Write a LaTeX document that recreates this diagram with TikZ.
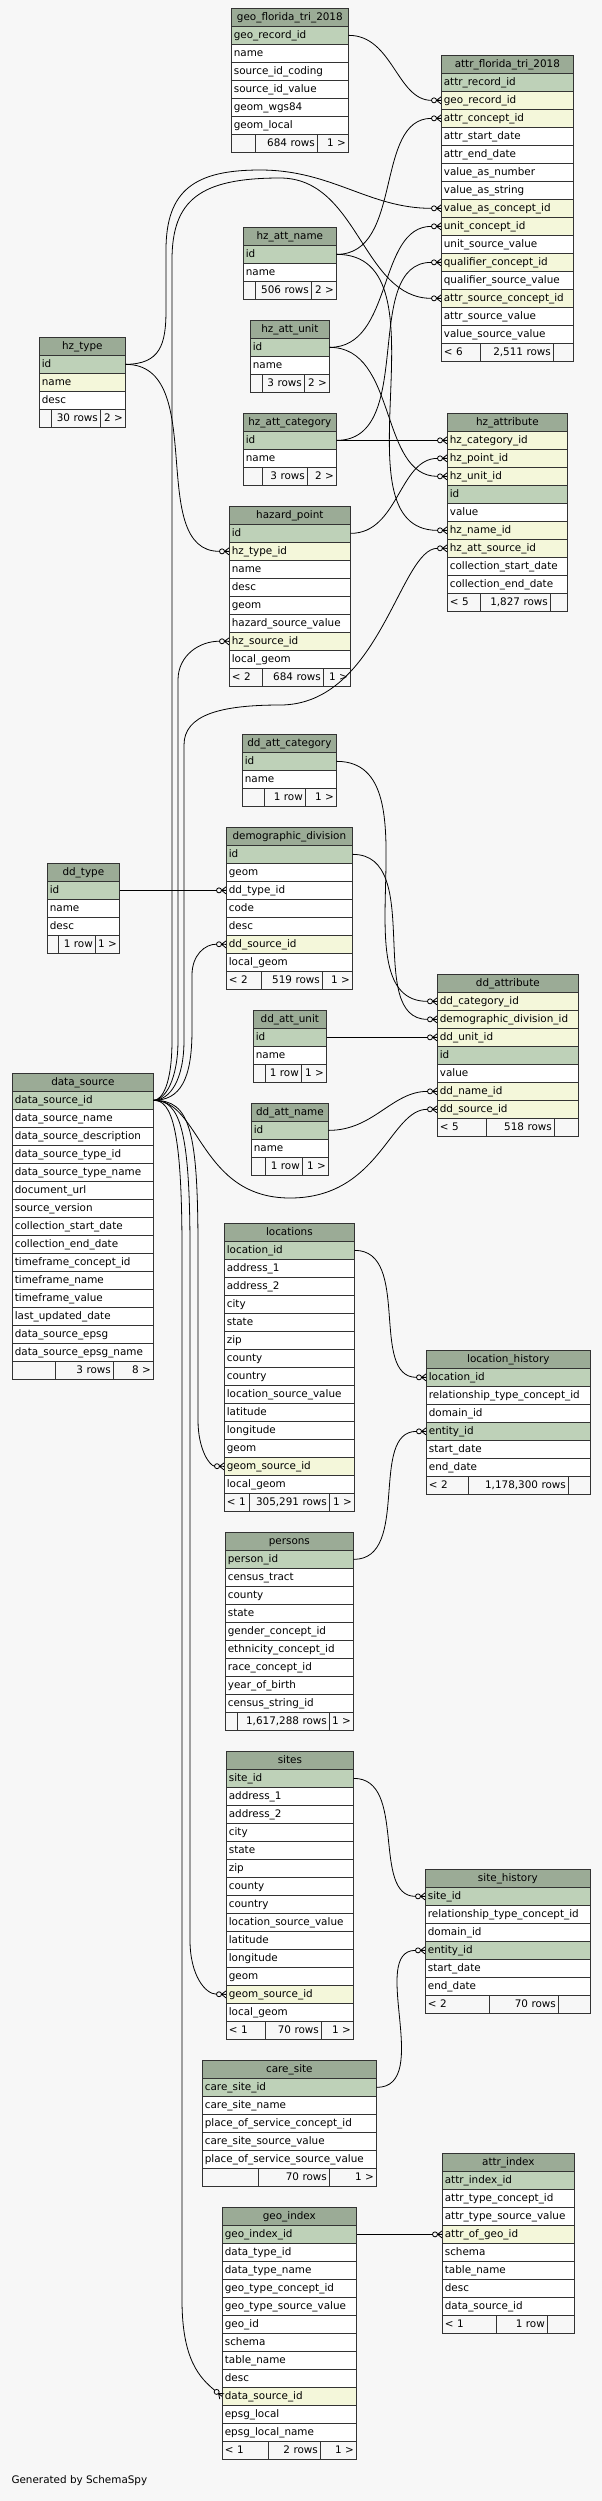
\documentclass[tikz,border=0pt]{standalone}
\usepackage{fontspec}
\setmainfont{DejaVu Sans}
\usetikzlibrary{arrows.meta}

\definecolor{bggray}{HTML}{F7F7F7}
\definecolor{hdrgreen}{HTML}{9BAB96}
\definecolor{pkgreen}{HTML}{BED1B8}
\definecolor{fkyellow}{HTML}{F4F7DA}
\definecolor{footgray}{HTML}{F7F7F7}

\newcommand{\dbfont}{\fontsize{10.4pt}{12pt}\selectfont\hyphenpenalty=10000\exhyphenpenalty=10000\relax}

% circle plus crow's foot at the child end
\pgfdeclarearrow{
  name=crowfoot,
  setup code={
    \pgfarrowssettipend{0pt}
    \pgfarrowssetlineend{-9.5pt}
    \pgfarrowssetbackend{-9.5pt}
  },
  drawing code={
    \pgfpathmoveto{\pgfqpoint{0pt}{3.5pt}}
    \pgfpathlineto{\pgfqpoint{-4.5pt}{0pt}}
    \pgfpathlineto{\pgfqpoint{0pt}{-3.5pt}}
    \pgfpathmoveto{\pgfqpoint{0pt}{0pt}}
    \pgfpathlineto{\pgfqpoint{-4.5pt}{0pt}}
    \pgfusepathqstroke
    \pgfpathcircle{\pgfqpoint{-7pt}{0pt}}{2.5pt}
    \pgfusepathqstroke
  }
}

\begin{document}
\begin{tikzpicture}[x=1pt,y=-1pt,
  dbcell/.style={draw=black!80, line width=0.7pt, anchor=north west, minimum height=18pt,
    inner xsep=2.5pt, inner ysep=0pt, text height=8pt, text depth=2.5pt, font=\dbfont},
  tblhead/.style={dbcell, fill=hdrgreen, align=center},
  pkrow/.style={dbcell, fill=pkgreen, align=left},
  fkrow/.style={dbcell, fill=fkyellow, align=left},
  colrow/.style={dbcell, fill=white, align=left},
  footl/.style={dbcell, fill=footgray, align=left},
  footr/.style={dbcell, fill=footgray, align=right},
  relline/.style={draw=black, line width=0.8pt, -{crowfoot}}]
\useasboundingbox (0,0) rectangle (602,2501);
\fill[bggray] (0,0) rectangle (602,2501);

% geo_florida_tri_2018
\begin{scope}[every node/.append style={text width=112pt}]
\node[tblhead] (gft) at (231,8) {geo\_florida\_tri\_2018};
\node[pkrow] (gft1) at (231,26) {geo\_record\_id};
\node[colrow] (gft2) at (231,44) {name};
\node[colrow] (gft3) at (231,62) {source\_id\_coding};
\node[colrow] (gft4) at (231,80) {source\_id\_value};
\node[colrow] (gft5) at (231,98) {geom\_wgs84};
\node[colrow] (gft6) at (231,116) {geom\_local};
\node[footl, text width=19pt] (gftf1) at (231,134) {};
\node[footr, text width=57pt] (gftf2) at (255,134) {684~rows};
\node[footr, text width=26pt] (gftf3) at (317,134) {1~>};
\end{scope}

% attr_florida_tri_2018
\begin{scope}[every node/.append style={text width=127pt}]
\node[tblhead] (afl) at (441,55) {attr\_florida\_tri\_2018};
\node[pkrow] (afl1) at (441,73) {attr\_record\_id};
\node[fkrow] (afl2) at (441,91) {geo\_record\_id};
\node[fkrow] (afl3) at (441,109) {attr\_concept\_id};
\node[colrow] (afl4) at (441,127) {attr\_start\_date};
\node[colrow] (afl5) at (441,145) {attr\_end\_date};
\node[colrow] (afl6) at (441,163) {value\_as\_number};
\node[colrow] (afl7) at (441,181) {value\_as\_string};
\node[fkrow] (afl8) at (441,199) {value\_as\_concept\_id};
\node[fkrow] (afl9) at (441,217) {unit\_concept\_id};
\node[colrow] (afl10) at (441,235) {unit\_source\_value};
\node[fkrow] (afl11) at (441,253) {qualifier\_concept\_id};
\node[colrow] (afl12) at (441,271) {qualifier\_source\_value};
\node[fkrow] (afl13) at (441,289) {attr\_source\_concept\_id};
\node[colrow] (afl14) at (441,307) {attr\_source\_value};
\node[colrow] (afl15) at (441,325) {value\_source\_value};
\node[footl, text width=34pt] (aflf1) at (441,343) {<~6};
\node[footr, text width=68pt] (aflf2) at (480,343) {2,511~rows};
\node[footr, text width=15pt] (aflf3) at (553,343) {};
\end{scope}

% hz_att_name
\begin{scope}[every node/.append style={text width=88pt}]
\node[tblhead] (han) at (243,227) {hz\_att\_name};
\node[pkrow] (han1) at (243,245) {id};
\node[colrow] (han2) at (243,263) {name};
\node[footl, text width=7pt] (hanf1) at (243,281) {};
\node[footr, text width=51pt] (hanf2) at (255,281) {506~rows};
\node[footr, text width=20pt] (hanf3) at (311,281) {2~>};
\end{scope}

% hz_att_unit
\begin{scope}[every node/.append style={text width=74pt}]
\node[tblhead] (hau) at (250,320) {hz\_att\_unit};
\node[pkrow] (hau1) at (250,338) {id};
\node[colrow] (hau2) at (250,356) {name};
\node[footl, text width=7pt] (hauf1) at (250,374) {};
\node[footr, text width=37pt] (hauf2) at (262,374) {3~rows};
\node[footr, text width=20pt] (hauf3) at (304,374) {2~>};
\end{scope}

% hz_type
\begin{scope}[every node/.append style={text width=81pt}]
\node[tblhead] (hzt) at (39,337) {hz\_type};
\node[pkrow] (hzt1) at (39,355) {id};
\node[fkrow] (hzt2) at (39,373) {name};
\node[colrow] (hzt3) at (39,391) {desc};
\node[footl, text width=7pt] (hztf1) at (39,409) {};
\node[footr, text width=44pt] (hztf2) at (51,409) {30~rows};
\node[footr, text width=20pt] (hztf3) at (100,409) {2~>};
\end{scope}

% hz_att_category
\begin{scope}[every node/.append style={text width=88pt}]
\node[tblhead] (hac) at (243,413) {hz\_att\_category};
\node[pkrow] (hac1) at (243,431) {id};
\node[colrow] (hac2) at (243,449) {name};
\node[footl, text width=14pt] (hacf1) at (243,467) {};
\node[footr, text width=40pt] (hacf2) at (262,467) {3~rows};
\node[footr, text width=24pt] (hacf3) at (307,467) {2~>};
\end{scope}

% hazard_point
\begin{scope}[every node/.append style={text width=116pt}]
\node[tblhead] (hzp) at (229,506) {hazard\_point};
\node[pkrow] (hzp1) at (229,524) {id};
\node[fkrow] (hzp2) at (229,542) {hz\_type\_id};
\node[colrow] (hzp3) at (229,560) {name};
\node[colrow] (hzp4) at (229,578) {desc};
\node[colrow] (hzp5) at (229,596) {geom};
\node[colrow] (hzp6) at (229,614) {hazard\_source\_value};
\node[fkrow] (hzp7) at (229,632) {hz\_source\_id};
\node[colrow] (hzp8) at (229,650) {local\_geom};
\node[footl, text width=28pt] (hzpf1) at (229,668) {<~2};
\node[footr, text width=56pt] (hzpf2) at (262,668) {684~rows};
\node[footr, text width=22pt] (hzpf3) at (323,668) {1~>};
\end{scope}

% hz_attribute
\begin{scope}[every node/.append style={text width=115pt}]
\node[tblhead] (hza) at (447,413) {hz\_attribute};
\node[fkrow] (hza1) at (447,431) {hz\_category\_id};
\node[fkrow] (hza2) at (447,449) {hz\_point\_id};
\node[fkrow] (hza3) at (447,467) {hz\_unit\_id};
\node[pkrow] (hza4) at (447,485) {id};
\node[colrow] (hza5) at (447,503) {value};
\node[fkrow] (hza6) at (447,521) {hz\_name\_id};
\node[fkrow] (hza7) at (447,539) {hz\_att\_source\_id};
\node[colrow] (hza8) at (447,557) {collection\_start\_date};
\node[colrow] (hza9) at (447,575) {collection\_end\_date};
\node[footl, text width=28pt] (hzaf1) at (447,593) {<~5};
\node[footr, text width=65pt] (hzaf2) at (480,593) {1,827~rows};
\node[footr, text width=12pt] (hzaf3) at (550,593) {};
\end{scope}

% dd_att_category
\begin{scope}[every node/.append style={text width=89pt}]
\node[tblhead] (dac) at (242,734) {dd\_att\_category};
\node[pkrow] (dac1) at (242,752) {id};
\node[colrow] (dac2) at (242,770) {name};
\node[footl, text width=17pt] (dacf1) at (242,788) {};
\node[footr, text width=36pt] (dacf2) at (264,788) {1~row};
\node[footr, text width=26pt] (dacf3) at (305,788) {1~>};
\end{scope}

% demographic_division
\begin{scope}[every node/.append style={text width=121pt}]
\node[tblhead] (ddv) at (226,827) {demographic\_division};
\node[pkrow] (ddv1) at (226,845) {id};
\node[colrow] (ddv2) at (226,863) {geom};
\node[colrow] (ddv3) at (226,881) {dd\_type\_id};
\node[colrow] (ddv4) at (226,899) {code};
\node[colrow] (ddv5) at (226,917) {desc};
\node[fkrow] (ddv6) at (226,935) {dd\_source\_id};
\node[colrow] (ddv7) at (226,953) {local\_geom};
\node[footl, text width=30pt] (ddvf1) at (226,971) {<~2};
\node[footr, text width=56pt] (ddvf2) at (261,971) {519~rows};
\node[footr, text width=25pt] (ddvf3) at (322,971) {1~>};
\end{scope}

% dd_type
\begin{scope}[every node/.append style={text width=67pt}]
\node[tblhead] (ddt) at (47,863) {dd\_type};
\node[pkrow] (ddt1) at (47,881) {id};
\node[colrow] (ddt2) at (47,899) {name};
\node[colrow] (ddt3) at (47,917) {desc};
\node[footl, text width=6pt] (ddtf1) at (47,935) {};
\node[footr, text width=32pt] (ddtf2) at (58,935) {1~row};
\node[footr, text width=19pt] (ddtf3) at (95,935) {1~>};
\end{scope}

% dd_att_unit
\begin{scope}[every node/.append style={text width=68pt}]
\node[tblhead] (dau) at (253,1010) {dd\_att\_unit};
\node[pkrow] (dau1) at (253,1028) {id};
\node[colrow] (dau2) at (253,1046) {name};
\node[footl, text width=7pt] (dauf1) at (253,1064) {};
\node[footr, text width=31pt] (dauf2) at (265,1064) {1~row};
\node[footr, text width=20pt] (dauf3) at (301,1064) {1~>};
\end{scope}

% dd_attribute
\begin{scope}[every node/.append style={text width=136pt}]
\node[tblhead] (dda) at (437,974) {dd\_attribute};
\node[fkrow] (dda1) at (437,992) {dd\_category\_id};
\node[fkrow] (dda2) at (437,1010) {demographic\_division\_id};
\node[fkrow] (dda3) at (437,1028) {dd\_unit\_id};
\node[pkrow] (dda4) at (437,1046) {id};
\node[colrow] (dda5) at (437,1064) {value};
\node[fkrow] (dda6) at (437,1082) {dd\_name\_id};
\node[fkrow] (dda7) at (437,1100) {dd\_source\_id};
\node[footl, text width=44pt] (ddaf1) at (437,1118) {<~5};
\node[footr, text width=63pt] (ddaf2) at (486,1118) {518~rows};
\node[footr, text width=19pt] (ddaf3) at (554,1118) {};
\end{scope}

% dd_att_name
\begin{scope}[every node/.append style={text width=72pt}]
\node[tblhead] (dan) at (251,1103) {dd\_att\_name};
\node[pkrow] (dan1) at (251,1121) {id};
\node[colrow] (dan2) at (251,1139) {name};
\node[footl, text width=9pt] (danf1) at (251,1157) {};
\node[footr, text width=32pt] (danf2) at (265,1157) {1~row};
\node[footr, text width=21pt] (danf3) at (302,1157) {1~>};
\end{scope}

% data_source
\begin{scope}[every node/.append style={text width=136pt}]
\node[tblhead] (dsr) at (12,1073) {data\_source};
\node[pkrow] (dsr1) at (12,1091) {data\_source\_id};
\node[colrow] (dsr2) at (12,1109) {data\_source\_name};
\node[colrow] (dsr3) at (12,1127) {data\_source\_description};
\node[colrow] (dsr4) at (12,1145) {data\_source\_type\_id};
\node[colrow] (dsr5) at (12,1163) {data\_source\_type\_name};
\node[colrow] (dsr6) at (12,1181) {document\_url};
\node[colrow] (dsr7) at (12,1199) {source\_version};
\node[colrow] (dsr8) at (12,1217) {collection\_start\_date};
\node[colrow] (dsr9) at (12,1235) {collection\_end\_date};
\node[colrow] (dsr10) at (12,1253) {timeframe\_concept\_id};
\node[colrow] (dsr11) at (12,1271) {timeframe\_name};
\node[colrow] (dsr12) at (12,1289) {timeframe\_value};
\node[colrow] (dsr13) at (12,1307) {last\_updated\_date};
\node[colrow] (dsr14) at (12,1325) {data\_source\_epsg};
\node[colrow] (dsr15) at (12,1343) {data\_source\_epsg\_name};
\node[footl, text width=38pt] (dsrf1) at (12,1361) {};
\node[footr, text width=53pt] (dsrf2) at (55,1361) {3~rows};
\node[footr, text width=35pt] (dsrf3) at (113,1361) {8~>};
\end{scope}

% locations
\begin{scope}[every node/.append style={text width=125pt}]
\node[tblhead] (loc) at (224,1223) {locations};
\node[pkrow] (loc1) at (224,1241) {location\_id};
\node[colrow] (loc2) at (224,1259) {address\_1};
\node[colrow] (loc3) at (224,1277) {address\_2};
\node[colrow] (loc4) at (224,1295) {city};
\node[colrow] (loc5) at (224,1313) {state};
\node[colrow] (loc6) at (224,1331) {zip};
\node[colrow] (loc7) at (224,1349) {county};
\node[colrow] (loc8) at (224,1367) {country};
\node[colrow] (loc9) at (224,1385) {location\_source\_value};
\node[colrow] (loc10) at (224,1403) {latitude};
\node[colrow] (loc11) at (224,1421) {longitude};
\node[colrow] (loc12) at (224,1439) {geom};
\node[fkrow] (loc13) at (224,1457) {geom\_source\_id};
\node[colrow] (loc14) at (224,1475) {local\_geom};
\node[footl, text width=20pt] (locf1) at (224,1493) {<~1};
\node[footr, text width=75pt] (locf2) at (249,1493) {305,291~rows};
\node[footr, text width=20pt] (locf3) at (329,1493) {1~>};
\end{scope}

% location_history
\begin{scope}[every node/.append style={text width=159pt}]
\node[tblhead] (lhi) at (426,1350) {location\_history};
\node[pkrow] (lhi1) at (426,1368) {location\_id};
\node[colrow] (lhi2) at (426,1386) {relationship\_type\_concept\_id};
\node[colrow] (lhi3) at (426,1404) {domain\_id};
\node[pkrow] (lhi4) at (426,1422) {entity\_id};
\node[colrow] (lhi5) at (426,1440) {start\_date};
\node[colrow] (lhi6) at (426,1458) {end\_date};
\node[footl, text width=37pt] (lhif1) at (426,1476) {<~2};
\node[footr, text width=95pt] (lhif2) at (468,1476) {1,178,300~rows};
\node[footr, text width=17pt] (lhif3) at (568,1476) {};
\end{scope}

% persons
\begin{scope}[every node/.append style={text width=123pt}]
\node[tblhead] (per) at (225,1532) {persons};
\node[pkrow] (per1) at (225,1550) {person\_id};
\node[colrow] (per2) at (225,1568) {census\_tract};
\node[colrow] (per3) at (225,1586) {county};
\node[colrow] (per4) at (225,1604) {state};
\node[colrow] (per5) at (225,1622) {gender\_concept\_id};
\node[colrow] (per6) at (225,1640) {ethnicity\_concept\_id};
\node[colrow] (per7) at (225,1658) {race\_concept\_id};
\node[colrow] (per8) at (225,1676) {year\_of\_birth};
\node[colrow] (per9) at (225,1694) {census\_string\_id};
\node[footl, text width=7pt] (perf1) at (225,1712) {};
\node[footr, text width=87pt] (perf2) at (237,1712) {1,617,288~rows};
\node[footr, text width=19pt] (perf3) at (329,1712) {1~>};
\end{scope}

% sites
\begin{scope}[every node/.append style={text width=122pt}]
\node[tblhead] (sit) at (226,1751) {sites};
\node[pkrow] (sit1) at (226,1769) {site\_id};
\node[colrow] (sit2) at (226,1787) {address\_1};
\node[colrow] (sit3) at (226,1805) {address\_2};
\node[colrow] (sit4) at (226,1823) {city};
\node[colrow] (sit5) at (226,1841) {state};
\node[colrow] (sit6) at (226,1859) {zip};
\node[colrow] (sit7) at (226,1877) {county};
\node[colrow] (sit8) at (226,1895) {country};
\node[colrow] (sit9) at (226,1913) {location\_source\_value};
\node[colrow] (sit10) at (226,1931) {latitude};
\node[colrow] (sit11) at (226,1949) {longitude};
\node[colrow] (sit12) at (226,1967) {geom};
\node[fkrow] (sit13) at (226,1985) {geom\_source\_id};
\node[colrow] (sit14) at (226,2003) {local\_geom};
\node[footl, text width=34pt] (sitf1) at (226,2021) {<~1};
\node[footr, text width=51pt] (sitf2) at (265,2021) {70~rows};
\node[footr, text width=27pt] (sitf3) at (321,2021) {1~>};
\end{scope}

% site_history
\begin{scope}[every node/.append style={text width=160pt}]
\node[tblhead] (shi) at (425,1869) {site\_history};
\node[pkrow] (shi1) at (425,1887) {site\_id};
\node[colrow] (shi2) at (425,1905) {relationship\_type\_concept\_id};
\node[colrow] (shi3) at (425,1923) {domain\_id};
\node[pkrow] (shi4) at (425,1941) {entity\_id};
\node[colrow] (shi5) at (425,1959) {start\_date};
\node[colrow] (shi6) at (425,1977) {end\_date};
\node[footl, text width=59pt] (shif1) at (425,1995) {<~2};
\node[footr, text width=64pt] (shif2) at (489,1995) {70~rows};
\node[footr, text width=27pt] (shif3) at (558,1995) {};
\end{scope}

% care_site
\begin{scope}[every node/.append style={text width=169pt}]
\node[tblhead] (cst) at (202,2060) {care\_site};
\node[pkrow] (cst1) at (202,2078) {care\_site\_id};
\node[colrow] (cst2) at (202,2096) {care\_site\_name};
\node[colrow] (cst3) at (202,2114) {place\_of\_service\_concept\_id};
\node[colrow] (cst4) at (202,2132) {care\_site\_source\_value};
\node[colrow] (cst5) at (202,2150) {place\_of\_service\_source\_value};
\node[footl, text width=51pt] (cstf1) at (202,2168) {};
\node[footr, text width=66pt] (cstf2) at (258,2168) {70~rows};
\node[footr, text width=42pt] (cstf3) at (329,2168) {1~>};
\end{scope}

% attr_index
\begin{scope}[every node/.append style={text width=127pt}]
\node[tblhead] (aix) at (442,2153) {attr\_index};
\node[pkrow] (aix1) at (442,2171) {attr\_index\_id};
\node[colrow] (aix2) at (442,2189) {attr\_type\_concept\_id};
\node[colrow] (aix3) at (442,2207) {attr\_type\_source\_value};
\node[fkrow] (aix4) at (442,2225) {attr\_of\_geo\_id};
\node[colrow] (aix5) at (442,2243) {schema};
\node[colrow] (aix6) at (442,2261) {table\_name};
\node[colrow] (aix7) at (442,2279) {desc};
\node[colrow] (aix8) at (442,2297) {data\_source\_id};
\node[footl, text width=49pt] (aixf1) at (442,2315) {<~1};
\node[footr, text width=46pt] (aixf2) at (496,2315) {1~row};
\node[footr, text width=22pt] (aixf3) at (547,2315) {};
\end{scope}

% geo_index
\begin{scope}[every node/.append style={text width=129pt}]
\node[tblhead] (gix) at (222,2207) {geo\_index};
\node[pkrow] (gix1) at (222,2225) {geo\_index\_id};
\node[colrow] (gix2) at (222,2243) {data\_type\_id};
\node[colrow] (gix3) at (222,2261) {data\_type\_name};
\node[colrow] (gix4) at (222,2279) {geo\_type\_concept\_id};
\node[colrow] (gix5) at (222,2297) {geo\_type\_source\_value};
\node[colrow] (gix6) at (222,2315) {geo\_id};
\node[colrow] (gix7) at (222,2333) {schema};
\node[colrow] (gix8) at (222,2351) {table\_name};
\node[colrow] (gix9) at (222,2369) {desc};
\node[fkrow] (gix10) at (222,2387) {data\_source\_id};
\node[colrow] (gix11) at (222,2405) {epsg\_local};
\node[colrow] (gix12) at (222,2423) {epsg\_local\_name};
\node[footl, text width=41pt] (gixf1) at (222,2441) {<~1};
\node[footr, text width=47pt] (gixf2) at (268,2441) {2~rows};
\node[footr, text width=31pt] (gixf3) at (320,2441) {1~>};
\end{scope}

\node[anchor=west, font=\dbfont] (gen) at (8,2481) {Generated by SchemaSpy};

% relationships, parent key to child column
\draw[relline] (gft1.east) to[out=0,in=180] (afl2.west);
\draw[relline] (han1.east) to[out=0,in=180] (afl3.west);
\draw[relline] (hau1.east) to[out=0,in=180] (afl9.west);
\draw[relline] (hac1.east) to[out=0,in=180] (afl11.west);
\draw[relline] (hzt1.east) .. controls (160,364) and (166,345) .. (166,310) -- (166,250)
  .. controls (166,190) and (195,170) .. (260,170) to[out=0,in=180] (afl8.west);
\draw[relline] (dsr1.east) .. controls (162,1100) and (172,1085) .. (172,1040) -- (172,260)
  .. controls (172,200) and (200,178) .. (280,178) to[out=0,in=180] (afl13.west);
\draw[relline] (hac1.east) -- (hza1.west);
\draw[relline] (hzp1.east) to[out=0,in=180] (hza2.west);
\draw[relline] (hau1.east) to[out=0,in=180] (hza3.west);
\draw[relline] (han1.east) to[out=0,in=180] (hza6.west);
\draw[relline] (dsr1.east) .. controls (170,1100) and (184,1080) .. (184,1040) -- (184,745)
  .. controls (184,715) and (220,705) .. (280,705) .. controls (380,705) and (400,548) .. (hza7.west);
\draw[relline] (hzt1.east) to[out=0,in=180] (hzp2.west);
\draw[relline] (dsr1.east) .. controls (165,1100) and (178,1080) .. (178,1040) -- (178,680)
  .. controls (178,655) and (200,641) .. (hzp7.west);
\draw[relline] (ddt1.east) -- (ddv3.west);
\draw[relline] (dsr1.east) .. controls (180,1100) and (192,1080) .. (192,1030) -- (192,975)
  .. controls (192,955) and (205,944) .. (ddv6.west);
\draw[relline] (dac1.east) to[out=0,in=180] (dda1.west);
\draw[relline] (ddv1.east) to[out=0,in=180] (dda2.west);
\draw[relline] (dau1.east) -- (dda3.west);
\draw[relline] (dan1.east) to[out=0,in=180] (dda6.west);
\draw[relline] (dsr1.east) .. controls (200,1100) and (200,1198) .. (290,1198)
  .. controls (380,1198) and (390,1109) .. (dda7.west);
\draw[relline] (loc1.east) to[out=0,in=180] (lhi1.west);
\draw[relline] (per1.east) to[out=0,in=180] (lhi4.west);
\draw[relline] (dsr1.east) .. controls (190,1100) and (198,1130) .. (198,1250) -- (198,1420)
  .. controls (198,1450) and (210,1466) .. (loc13.west);
\draw[relline] (sit1.east) to[out=0,in=180] (shi1.west);
\draw[relline] (cst1.east) to[out=0,in=180] (shi4.west);
\draw[relline] (dsr1.east) .. controls (180,1100) and (190,1130) .. (190,1250) -- (190,1940)
  .. controls (190,1975) and (205,1994) .. (sit13.west);
\draw[relline] (gix1.east) -- (aix4.west);
\draw[relline] (dsr1.east) .. controls (172,1100) and (182,1130) .. (182,1250) -- (182,2300)
  .. controls (182,2360) and (200,2378) .. (gix10.west);
\end{tikzpicture}
\end{document}
